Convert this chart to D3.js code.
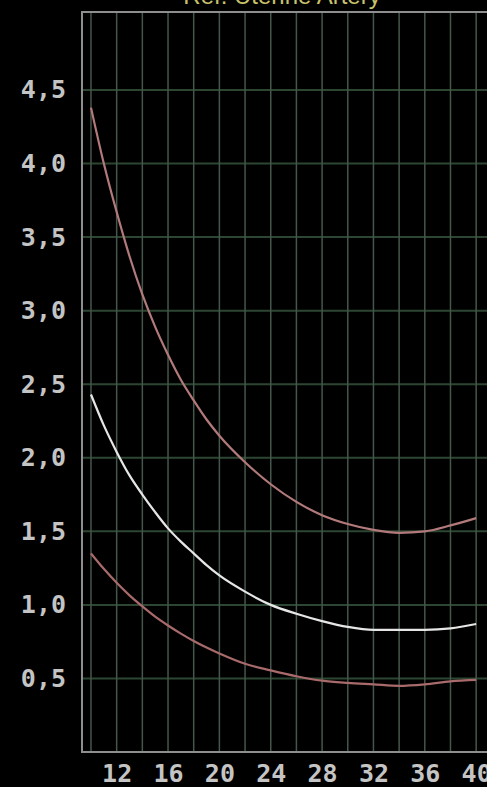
<!DOCTYPE html>
<html>
<head>
<meta charset="utf-8">
<script src="https://cdn.jsdelivr.net/npm/d3@7"></script>
<style>
  html, body { margin: 0; padding: 0; background: #000; }
  svg { display: block; }
  .lbl text { font-family: "DejaVu Sans Mono", monospace; font-weight: bold; font-size: 25px; fill: #c4c4c4; }
</style>
</head>
<body>
<div id="chart"></div>
<script>
// gestational week and the three reference curves
var weeks = [10, 11, 12, 13, 14, 15, 16, 17, 18, 19, 20, 22, 24, 26, 28, 30, 32, 34, 36, 38, 40];
var upper = [4.38, 4.00, 3.67, 3.37, 3.11, 2.89, 2.70, 2.53, 2.39, 2.26, 2.15, 1.97, 1.82, 1.70, 1.61, 1.55, 1.51, 1.49, 1.50, 1.54, 1.59];
var mean  = [2.43, 2.22, 2.04, 1.88, 1.75, 1.63, 1.52, 1.43, 1.35, 1.27, 1.20, 1.09, 1.00, 0.94, 0.89, 0.85, 0.83, 0.83, 0.83, 0.84, 0.87];
var lower = [1.35, 1.245, 1.15, 1.065, 0.99, 0.92, 0.86, 0.805, 0.755, 0.71, 0.67, 0.60, 0.555, 0.515, 0.485, 0.47, 0.46, 0.45, 0.46, 0.48, 0.49];

var xTicks = [12, 16, 20, 24, 28, 32, 36, 40];
var yTicks = [0.5, 1.0, 1.5, 2.0, 2.5, 3.0, 3.5, 4.0, 4.5];
var xGrid = d3.range(10, 41, 2);

var width = 487,
    height = 787;

var svg = d3.select('#chart')
    .append('svg')
    .attr('width', width)
    .attr('height', height);

var x = d3.scaleLinear().domain([9.3, 41]).range([82, 489]);
var y = d3.scaleLinear().domain([0, 5.03]).range([752, 12]);

var fmt = d3.formatLocale({decimal: ',', thousands: '.', grouping: [3], currency: ['', '']}).format('.1f');

// title, mostly cut off at the top
svg.append('text')
    .attr('x', 282)
    .attr('y', 4)
    .attr('text-anchor', 'middle')
    .style('font-family', 'Liberation Sans, sans-serif')
    .style('font-size', '24px')
    .style('fill', '#c9c26a')
    .text('Ref. Uterine Artery');

// grid
svg.append('g').selectAll('line')
    .data(yTicks)
    .enter()
    .append('line')
    .attr('x1', x.range()[0]).attr('x2', x.range()[1])
    .attr('y1', function (d) { return y(d); })
    .attr('y2', function (d) { return y(d); })
    .attr('stroke', '#2c4632')
    .attr('stroke-width', 2);

svg.append('g').selectAll('line')
    .data(xGrid)
    .enter()
    .append('line')
    .attr('x1', function (d) { return x(d); })
    .attr('x2', function (d) { return x(d); })
    .attr('y1', y.range()[1]).attr('y2', y.range()[0])
    .attr('stroke', '#44574a')
    .attr('stroke-width', 1.5);

// frame
svg.append('rect')
    .attr('x', x.range()[0])
    .attr('y', y.range()[1])
    .attr('width', x.range()[1] - x.range()[0])
    .attr('height', y.range()[0] - y.range()[1])
    .attr('fill', 'none')
    .attr('stroke', '#8e8e8e')
    .attr('stroke-width', 2);

// axes labels
var yAxis = d3.axisLeft(y).tickValues(yTicks).tickSize(0).tickPadding(16).tickFormat(fmt);
svg.append('g')
    .attr('class', 'lbl')
    .attr('transform', 'translate(' + x.range()[0] + ',0)')
    .call(yAxis)
    .call(function (g) { g.select('.domain').remove(); });

var xAxis = d3.axisBottom(x).tickValues(xTicks).tickSize(0).tickPadding(12).tickFormat(d3.format('d'));
svg.append('g')
    .attr('class', 'lbl')
    .attr('transform', 'translate(0,' + y.range()[0] + ')')
    .call(xAxis)
    .call(function (g) { g.select('.domain').remove(); });

// curves
var line = d3.line()
    .x(function (d) { return x(d[0]); })
    .y(function (d) { return y(d[1]); })
    .curve(d3.curveMonotoneX);

var series = [
    {values: upper, color: '#b27a7a'},
    {values: mean, color: '#e6e6e6'},
    {values: lower, color: '#a86a6a'}
];

svg.append('g').selectAll('path')
    .data(series)
    .enter()
    .append('path')
    .attr('d', function (s) { return line(d3.zip(weeks, s.values)); })
    .attr('fill', 'none')
    .attr('stroke', function (s) { return s.color; })
    .attr('stroke-width', 2.2);
</script>
</body>
</html>
